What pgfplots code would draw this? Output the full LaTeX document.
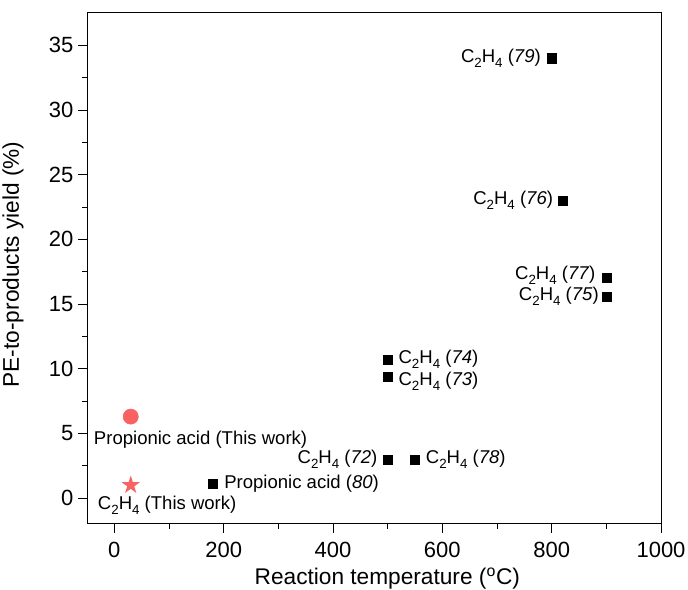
\documentclass[border=0pt]{standalone}
\usepackage{fontspec}
\setmainfont{Liberation Sans}
\usepackage{pgfplots}
\pgfplotsset{compat=1.18}

\definecolor{thiswork}{RGB}{248,98,98}

% filled five-pointed star
\pgfdeclareplotmark{fstar}{%
  \pgfpathmoveto{\pgfpointpolar{90}{\pgfplotmarksize}}%
  \pgfpathlineto{\pgfpointpolar{126}{0.382\pgfplotmarksize}}%
  \pgfpathlineto{\pgfpointpolar{162}{\pgfplotmarksize}}%
  \pgfpathlineto{\pgfpointpolar{198}{0.382\pgfplotmarksize}}%
  \pgfpathlineto{\pgfpointpolar{234}{\pgfplotmarksize}}%
  \pgfpathlineto{\pgfpointpolar{270}{0.382\pgfplotmarksize}}%
  \pgfpathlineto{\pgfpointpolar{306}{\pgfplotmarksize}}%
  \pgfpathlineto{\pgfpointpolar{342}{0.382\pgfplotmarksize}}%
  \pgfpathlineto{\pgfpointpolar{18}{\pgfplotmarksize}}%
  \pgfpathlineto{\pgfpointpolar{54}{0.382\pgfplotmarksize}}%
  \pgfpathclose
  \pgfusepathqfill
}

\newcommand{\sub}[1]{\raisebox{-0.5ex}{\fontsize{10}{11}\selectfont #1}}
\newcommand{\ethene}{C\sub{2}H\sub{4}}
\tikzset{lbl/.style={font=\fontsize{13.9}{16}\selectfont, inner sep=0pt}}

\begin{document}
\begin{tikzpicture}
\begin{axis}[
  scale only axis,
  width=430.5pt, height=383.25pt,
  xmin=-50, xmax=1000, ymin=-2, ymax=37.5,
  xtick={0,200,...,1000}, minor x tick num=1,
  ytick={0,5,...,35}, minor y tick num=1,
  tick pos=left, tick align=outside,
  major tick length=6.75pt, minor tick length=3.5pt,
  every tick/.style={black, line width=0.75pt},
  axis line style={line width=0.75pt},
  /pgf/number format/assume math mode=true,
  /pgf/number format/1000 sep={},
  tick label style={font=\fontsize{16.5}{18}\selectfont},
  xticklabel style={yshift=-3pt},
  xlabel={Reaction temperature (\textsuperscript{o}C)},
  ylabel={PE-to-products yield (\%)},
  label style={font=\fontsize{17}{19}\selectfont},
  xlabel style={at={([xshift=10pt, yshift=-45.5pt]rel axis cs:0.5,0)}, anchor=base},
  ylabel style={at={([xshift=-55.5pt, yshift=3pt]rel axis cs:0,0.5)}, anchor=center},
  clip=false,
]
\coordinate (sw) at (rel axis cs:0,0);
\coordinate (ne) at (rel axis cs:1,1);

% literature values
\addplot[only marks, mark=square*, mark size=3.4pt, black] coordinates {
  (180,1.1) (500,3.0) (550,3.0) (500,9.4) (500,10.7)
  (900,15.6) (900,17.0) (820,23.0) (800,34.0)
};
% this work
\addplot[only marks, mark=*, mark size=5.7pt, thiswork] coordinates {(30,6.3)};
\addplot[only marks, mark=fstar, mark size=7.2pt, thiswork] coordinates {(30,1.0)};

\node[lbl, anchor=east] at (axis cs:800,34) [xshift=-8pt] {\ethene{} (\textit{79})};
\node[lbl, anchor=east] at (axis cs:820,23) [xshift=-7pt] {\ethene{} (\textit{76})};
\node[lbl, anchor=east] at (axis cs:900,17) [xshift=-8pt, yshift=2pt] {\ethene{} (\textit{77})};
\node[lbl, anchor=east] at (axis cs:900,15.6) [xshift=-5.5pt] {\ethene{} (\textit{75})};
\node[lbl, anchor=west] at (axis cs:500,10.7) [xshift=8pt] {\ethene{} (\textit{74})};
\node[lbl, anchor=west] at (axis cs:500,9.4) [xshift=8pt, yshift=-3.5pt] {\ethene{} (\textit{73})};
\node[lbl, anchor=east] at (axis cs:500,3) [xshift=-7.5pt] {\ethene{} (\textit{72})};
\node[lbl, anchor=west] at (axis cs:550,3) [xshift=8pt] {\ethene{} (\textit{78})};
\node[lbl, anchor=west] at (axis cs:180,1.1) [xshift=8.5pt] {Propionic acid (\textit{80})};
\node[lbl, anchor=base west] at (axis cs:30,6.3) [xshift=-27.75pt, yshift=-21pt] {Propionic acid (This work)};
\node[lbl, anchor=base west] at (axis cs:30,1.0) [xshift=-24.75pt, yshift=-18pt] {\ethene{} (This work)};
\end{axis}
\pgfresetboundingbox
\path ([xshift=-65.25pt, yshift=-49.5pt]sw) rectangle ([xshift=20.25pt, yshift=9.75pt]ne);
\end{tikzpicture}
\end{document}
